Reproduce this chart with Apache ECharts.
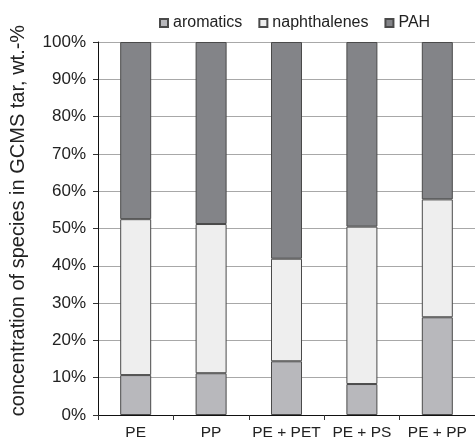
<!DOCTYPE html>
<html>
<head>
<meta charset="utf-8">
<script src="https://cdn.jsdelivr.net/npm/echarts@6/dist/echarts.min.js"></script>
<style>
  html, body { margin: 0; padding: 0; background: #fff; }
  #chart { width: 475px; height: 441px; }
</style>
</head>
<body>
<div id="chart"></div>
<script>
// Feedstock mixtures
const categories = ['PE', 'PP', 'PE + PET', 'PE + PS', 'PE + PP'];
// Composition of the GCMS tar, wt.-%
const aromatics    = [10.7, 11.2, 14.4, 8.3, 26.2];
const naphthalenes = [41.8, 40.0, 27.5, 42.2, 31.6];
const pah          = [47.5, 48.8, 58.1, 49.5, 42.2];

const font = '"Liberation Sans", Arial, sans-serif';
const edge = { borderColor: '#4a4a4a', borderWidth: 1 };

const chart = echarts.init(document.getElementById('chart'));
chart.setOption({
  animation: false,
  textStyle: { fontFamily: font },
  legend: {
    top: 10,
    left: 154,
    icon: 'rect',
    itemWidth: 8,
    itemHeight: 8,
    itemGap: 16,
    textStyle: { fontFamily: font, fontSize: 16, color: '#222' },
    data: ['aromatics', 'naphthalenes', 'PAH']
  },
  grid: { left: 95, right: 0, top: 42, bottom: 25 },
  xAxis: {
    type: 'category',
    data: categories,
    axisLine: { lineStyle: { color: '#111', width: 1 } },
    axisTick: { show: true, length: 5, lineStyle: { color: '#333' } },
    axisLabel: { interval: 0, fontFamily: font, fontSize: 15.5, color: '#222', margin: 10 }
  },
  yAxis: {
    type: 'value',
    min: 0,
    max: 100,
    interval: 10,
    name: 'concentration of species in GCMS tar, wt.-%',
    nameLocation: 'middle',
    nameGap: 70,
    nameTextStyle: { fontFamily: font, fontSize: 20, color: '#222', padding: [0, 0, 0, 16] },
    axisLine: { show: true, lineStyle: { color: '#111', width: 1 } },
    axisTick: { show: true, length: 5, lineStyle: { color: '#333' } },
    axisLabel: { fontFamily: font, fontSize: 17, color: '#222', margin: 12, formatter: '{value}%' },
    splitLine: { lineStyle: { color: '#a8a8a8', width: 1 } }
  },
  series: [
    { name: 'aromatics', type: 'bar', stack: 'tar', barWidth: 31, data: aromatics,
      itemStyle: Object.assign({ color: '#b8b8bc' }, edge) },
    { name: 'naphthalenes', type: 'bar', stack: 'tar', barWidth: 31, data: naphthalenes,
      itemStyle: Object.assign({ color: '#eeeeee' }, edge) },
    { name: 'PAH', type: 'bar', stack: 'tar', barWidth: 31, data: pah,
      itemStyle: Object.assign({ color: '#838488' }, edge) }
  ]
});
</script>
</body>
</html>
